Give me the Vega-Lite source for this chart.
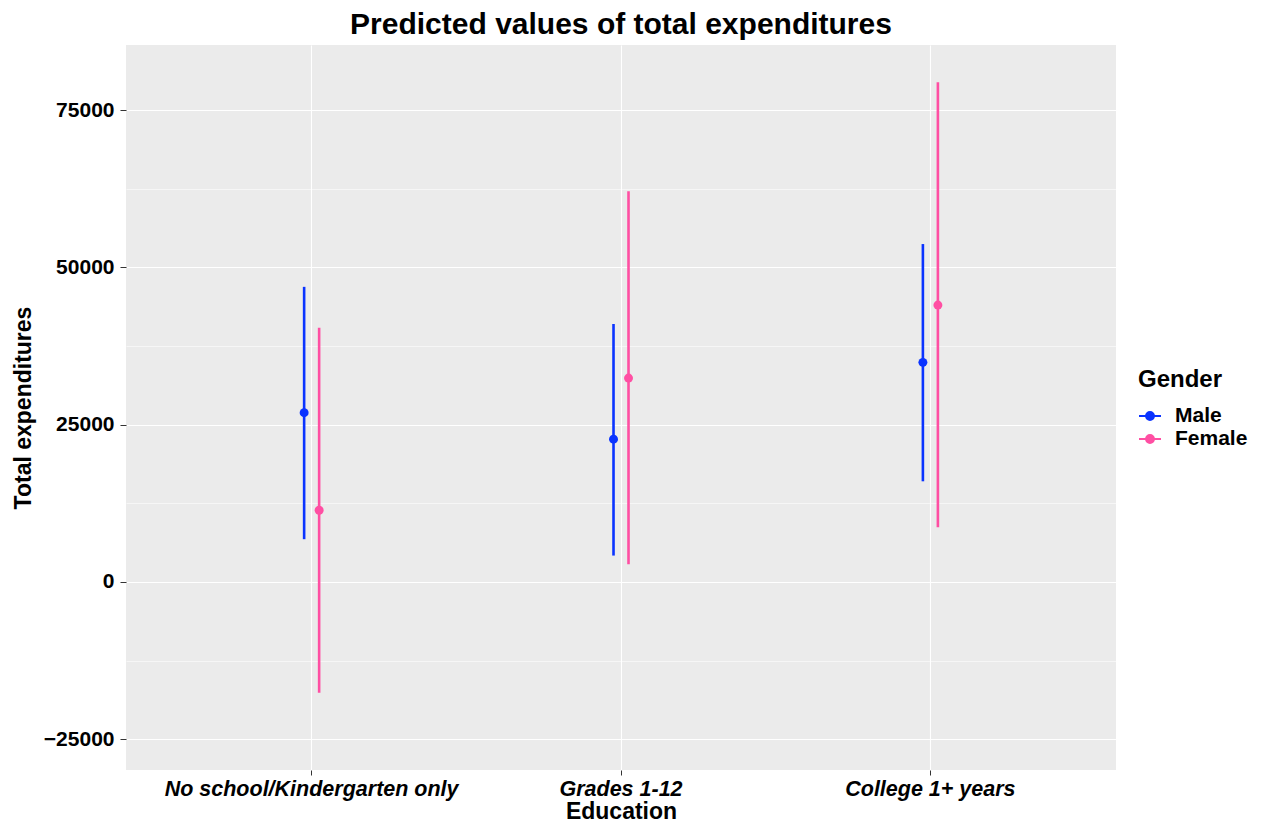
{
  "$schema": "https://vega.github.io/schema/vega-lite/v6.json",
  "width": 990,
  "height": 725,
  "padding": {"left": 12, "top": 10, "right": 5, "bottom": 0},
  "background": "white",
  "config": {
    "font": "Liberation Sans",
    "view": {"fill": "#EBEBEB", "stroke": null},
    "axis": {"domain": false, "gridColor": "white", "tickColor": "#333333", "labelColor": "black", "titleColor": "black", "labelFontWeight": "bold", "titleFontWeight": "bold", "labelFontSize": 21, "titleFontSize": 24}
  },
  "title": {"text": "Predicted values of total expenditures", "fontSize": 30, "fontWeight": "bold", "color": "black", "anchor": "middle", "frame": "group", "offset": 5},
  "data": {"values": [
    {"edu": "No school/Kindergarten only", "gender": "Male", "est": 26900, "lo": 6800, "hi": 46900},
    {"edu": "No school/Kindergarten only", "gender": "Female", "est": 11400, "lo": -17600, "hi": 40400},
    {"edu": "Grades 1-12", "gender": "Male", "est": 22700, "lo": 4200, "hi": 41000},
    {"edu": "Grades 1-12", "gender": "Female", "est": 32400, "lo": 2800, "hi": 62100},
    {"edu": "College 1+ years", "gender": "Male", "est": 34900, "lo": 16000, "hi": 53700},
    {"edu": "College 1+ years", "gender": "Female", "est": 44000, "lo": 8700, "hi": 79400}
  ]},
  "encoding": {
    "x": {"field": "edu", "type": "nominal", "sort": ["No school/Kindergarten only", "Grades 1-12", "College 1+ years"],
      "scale": {"paddingInner": 0, "paddingOuter": 0.1},
      "axis": {"title": "Education", "titleFontSize": 23, "labelFontSize": 21.5, "labelAngle": 0, "labelFontStyle": "italic", "labelLimit": 0, "grid": true, "gridWidth": 1.1, "gridColor": "white", "tickSize": 5, "bandPosition": 0.5, "labelPadding": 3, "titlePadding": 1}},
    "xOffset": {"field": "gender", "type": "nominal", "sort": ["Male", "Female"], "scale": {"type": "band", "paddingInner": 0, "paddingOuter": 0, "range": [139.7, 169.7]}},
    "color": {"field": "gender", "type": "nominal", "sort": ["Male", "Female"],
      "scale": {"domain": ["Male", "Female"], "range": ["#0a33ff", "#ff4fa3"]},
      "legend": {"title": "Gender", "orient": "none", "legendX": 1012, "legendY": 323, "titleFontSize": 24, "titleFontWeight": "bold", "titleColor": "black", "labelFontSize": 21, "labelFontWeight": "bold", "labelColor": "black", "symbolType": "M-1,0L1,0M0.36,0A0.36,0.36,0,1,1,-0.36,0A0.36,0.36,0,1,1,0.36,0", "symbolSize": 484, "symbolStrokeWidth": 2, "padding": 0, "rowPadding": 1, "titlePadding": 12, "labelOffset": 13,
        "encode": {"symbols": {"update": {"stroke": {"scale": "color", "field": "value"}, "fill": {"scale": "color", "field": "value"}, "fillOpacity": {"value": 1}}}}}
    }
  },
  "layer": [
    {
      "mark": {"type": "rule", "strokeWidth": 2.6},
      "encoding": {
        "y": {"field": "lo", "type": "quantitative",
          "scale": {"domain": [-29875, 85330], "nice": false, "zero": false},
          "axis": {"title": "Total expenditures", "titleFontSize": 23, "values": [-25000, -12500, 0, 12500, 25000, 37500, 50000, 62500, 75000], "format": "d",
            "labelExpr": "datum.value % 25000 === 0 ? datum.label : ''",
            "gridWidth": {"condition": {"test": "datum.value % 25000 === 0", "value": 1.1}, "value": 0.55},
            "tickOpacity": {"condition": {"test": "datum.value % 25000 === 0", "value": 1}, "value": 0},
            "tickSize": 6, "labelPadding": 6, "titlePadding": 8}},
        "y2": {"field": "hi"}
      }
    },
    {
      "mark": {"type": "point", "filled": true, "opacity": 1, "size": 80},
      "encoding": {
        "y": {"field": "est", "type": "quantitative"}
      }
    }
  ]
}
